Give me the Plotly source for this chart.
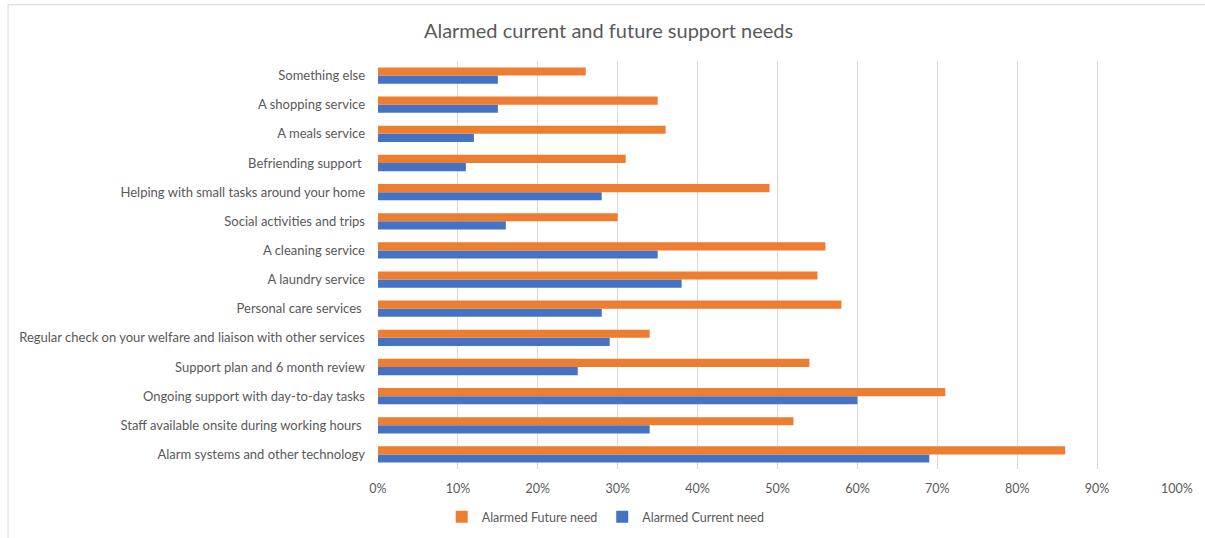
import plotly.graph_objects as go

# Categories listed bottom-to-top (as on the chart's y axis)
categories = [
    "Alarm systems and other technology",
    "Staff available onsite during working hours\u00a0",
    "Ongoing support with day-to-day tasks",
    "Support plan and 6 month review",
    "Regular check on your welfare and liaison with other services",
    "Personal care services\u00a0",
    "A laundry service",
    "A cleaning service",
    "Social activities and trips",
    "Helping with small tasks around your home",
    "Befriending support\u00a0",
    "A meals service",
    "A shopping service",
    "Something else",
]
current_need = [0.69, 0.34, 0.60, 0.25, 0.29, 0.28, 0.38, 0.35, 0.16, 0.28, 0.11, 0.12, 0.15, 0.15]
future_need = [0.86, 0.52, 0.71, 0.54, 0.34, 0.58, 0.55, 0.56, 0.30, 0.49, 0.31, 0.36, 0.35, 0.26]
x_ticks = [0, 0.1, 0.2, 0.3, 0.4, 0.5, 0.6, 0.7, 0.8, 0.9, 1.0]

ORANGE = "#ED7D31"
BLUE = "#4472C4"
TXT = "#595959"
FONT = "Lato, 'Open Sans', sans-serif"

fig = go.Figure()
fig.add_trace(go.Bar(y=categories, x=current_need, orientation="h", name="Alarmed Current need",
                     marker=dict(color=BLUE, line=dict(width=0))))
fig.add_trace(go.Bar(y=categories, x=future_need, orientation="h", name="Alarmed Future need",
                     marker=dict(color=ORANGE, line=dict(width=0))))

fig.update_layout(
    width=1205, height=538,
    margin=dict(l=378, r=28, t=61, b=69, autoexpand=False),
    paper_bgcolor="white", plot_bgcolor="white",
    barmode="group", bargap=0.44, bargroupgap=0,
    font=dict(family=FONT, color=TXT, size=13),
    title=dict(text="Alarmed current and future support needs", x=0.505, xanchor="center",
               y=0.943, yanchor="middle", font=dict(size=20, color=TXT, family=FONT)),
    xaxis=dict(range=[0, 1.0], tickvals=x_ticks, tickformat=".0%", showgrid=True,
               gridcolor="#D9D9D9", gridwidth=1, zeroline=False, showline=False,
               tickfont=dict(size=12.5, color=TXT), ticks="", ticklabelstandoff=10,
               automargin=False),
    yaxis=dict(showgrid=False, zeroline=False, showline=False, ticks="",
               tickfont=dict(size=13, color=TXT), ticklabelstandoff=12, automargin=False),
    legend=dict(orientation="h", x=0.285, xanchor="center", y=-0.118, yanchor="middle",
                traceorder="reversed", font=dict(size=12.5, color=TXT),
                itemwidth=30),
    showlegend=True,
)

fig.add_shape(type="rect", xref="paper", yref="paper",
              x0=-0.463, x1=1.2, y0=-0.3, y1=1.138,
              line=dict(color="#D9D9D9", width=1), fillcolor="rgba(0,0,0,0)", layer="below")

fig.write_html("out.html")
